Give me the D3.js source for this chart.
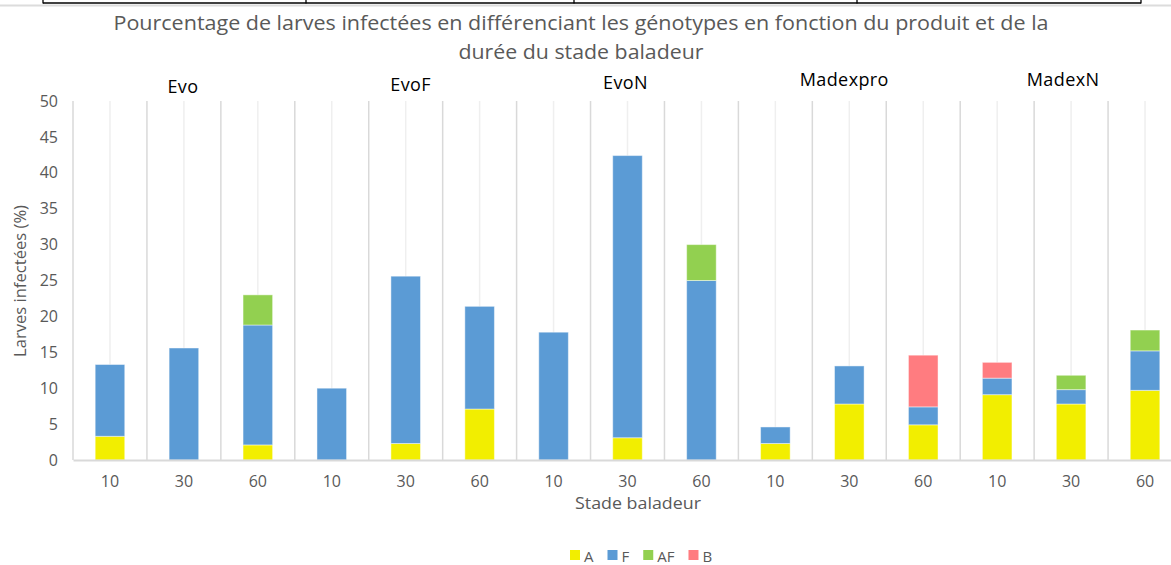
<!DOCTYPE html>
<html>
<head>
<meta charset="utf-8">
<script src="https://cdn.jsdelivr.net/npm/d3@7"></script>
<style>
  body { margin: 0; background: #fff; }
  svg { display: block; font-family: "Open Sans", sans-serif; }
</style>
</head>
<body>
<svg width="1171" height="565"></svg>
<script>
// categories : durée du stade baladeur, 3 par produit
var groups = ["Evo", "EvoF", "EvoN", "Madexpro", "MadexN"];
var durations = ["10", "30", "60"];
var yTicks = [0, 5, 10, 15, 20, 25, 30, 35, 40, 45, 50];

// % larves infectées par génotype
var serieA  = [3.3, 0, 2.1,   0, 2.3, 7.1,   0, 3.1, 0,     2.3, 7.8, 4.9,   9.1, 7.8, 9.7];
var serieF  = [10.0, 15.6, 16.7,   10.0, 23.3, 14.3,   17.8, 39.3, 25.0,   2.3, 5.3, 2.5,   2.3, 2.0, 5.5];
var serieAF = [0, 0, 4.2,   0, 0, 0,   0, 0, 5.0,   0, 0, 0,   0, 2.0, 2.9];
var serieB  = [0, 0, 0,   0, 0, 0,   0, 0, 0,   0, 0, 7.2,   2.2, 0, 0];

var seriesNames = ["A", "F", "AF", "B"];
var seriesColors = ["#F2EE00", "#5B9BD5", "#92D050", "#FF7C80"];

var svg = d3.select("svg");
var gray = "#595959";

// build rows for the stack
var data = [];
for (var i = 0; i < groups.length * durations.length; i++) {
  data.push({
    idx: i,
    label: durations[i % 3],
    A: serieA[i], F: serieF[i], AF: serieAF[i], B: serieB[i]
  });
}

var x = d3.scaleBand()
  .domain(data.map(function(d) { return d.idx; }))
  .range([73, 1182])
  .paddingInner(0.6)
  .paddingOuter(0.3);

var y = d3.scaleLinear().domain([0, 50]).range([460, 101]);

// bordure du tableau au dessus
var topLines = [43, 306, 574, 857, 1141];
svg.append("line")
  .attr("x1", 0).attr("x2", 1171).attr("y1", 5.5).attr("y2", 5.5)
  .attr("stroke", "#dcdcdc").attr("stroke-width", 2);
svg.append("line")
  .attr("x1", topLines[0]).attr("x2", topLines[topLines.length - 1])
  .attr("y1", 3).attr("y2", 3)
  .attr("stroke", "#000").attr("stroke-width", 1.3);
svg.selectAll(".tline").data(topLines).enter().append("line")
  .attr("x1", function(d) { return d; }).attr("x2", function(d) { return d; })
  .attr("y1", 0).attr("y2", 3.5)
  .attr("stroke", "#000").attr("stroke-width", 1.3);

// titre
var title = ["Pourcentage de larves infectées en différenciant les génotypes en fonction du produit et de la",
             "durée du stade baladeur"];
var titleWidth = [935, 245];
svg.selectAll(".title").data(title).enter().append("text")
  .attr("x", 581)
  .attr("y", function(d, i) { return 30 + i * 29; })
  .attr("text-anchor", "middle")
  .attr("font-size", "20px")
  .attr("fill", gray)
  .attr("textLength", function(d, i) { return titleWidth[i]; })
  .attr("lengthAdjust", "spacingAndGlyphs")
  .text(function(d) { return d; });

// gridlines
var nCat = data.length;
var majors = d3.range(nCat + 1).map(function(k) { return x.range()[0] + k * x.step(); });
svg.selectAll(".major").data(majors).enter().append("line")
  .attr("x1", function(d) { return d; }).attr("x2", function(d) { return d; })
  .attr("y1", y(50)).attr("y2", y(0))
  .attr("stroke", "#d9d9d9").attr("stroke-width", 1.5);
svg.selectAll(".minor").data(data).enter().append("line")
  .attr("x1", function(d) { return x(d.idx) + x.bandwidth() / 2; })
  .attr("x2", function(d) { return x(d.idx) + x.bandwidth() / 2; })
  .attr("y1", y(50)).attr("y2", y(0))
  .attr("stroke", "#efefef").attr("stroke-width", 1.5);

// barres empilées
var stack = d3.stack().keys(seriesNames);
var layers = stack(data);
var color = d3.scaleOrdinal().domain(seriesNames).range(seriesColors);

svg.selectAll(".layer").data(layers).enter().append("g")
  .attr("fill", function(d) { return color(d.key); })
  .selectAll("rect")
  .data(function(d) { return d.filter(function(s) { return s[1] - s[0] > 0; }); })
  .enter().append("rect")
  .attr("x", function(d) { return x(d.data.idx); })
  .attr("y", function(d) { return y(d[1]); })
  .attr("width", x.bandwidth())
  .attr("height", function(d) { return y(d[0]) - y(d[1]); })
  .attr("stroke", "rgba(255,255,255,0.45)")
  .attr("stroke-width", 1);

// axe des x
var xAxis = svg.append("g")
  .attr("transform", "translate(0," + y(0) + ")")
  .call(d3.axisBottom(x).tickSize(0).tickSizeOuter(0)
    .tickFormat(function(d) { return data[d].label; }));
xAxis.select(".domain").attr("stroke", "#d9d9d9").attr("stroke-width", 2);
xAxis.selectAll("text")
  .attr("y", 16).attr("dy", "0.71em")
  .attr("font-family", "Open Sans").attr("font-size", "16px").attr("fill", gray);

// axe des y
var yAxis = svg.append("g")
  .attr("transform", "translate(" + 73 + ",0)")
  .call(d3.axisLeft(y).tickValues(yTicks).tickSize(0).tickPadding(15));
yAxis.select(".domain").remove();
yAxis.selectAll("text")
  .attr("font-family", "Open Sans").attr("font-size", "16px").attr("fill", gray);

svg.append("text")
  .attr("transform", "translate(26,281) rotate(-90)")
  .attr("text-anchor", "middle")
  .attr("font-size", "17px")
  .attr("fill", gray)
  .attr("textLength", 152)
  .attr("lengthAdjust", "spacingAndGlyphs")
  .text("Larves infectées (%)");

svg.append("text")
  .attr("x", 638).attr("y", 509)
  .attr("text-anchor", "middle")
  .attr("font-size", "17px")
  .attr("fill", gray)
  .attr("textLength", 126)
  .attr("lengthAdjust", "spacingAndGlyphs")
  .text("Stade baladeur");

// noms des produits
var labelDx = [-1, 5, -2, -5, -8];
var labelY = [93, 91, 89, 86, 86];
svg.selectAll(".grp").data(groups).enter().append("text")
  .attr("x", function(d, i) { return x(i * 3 + 1) + x.bandwidth() / 2 + labelDx[i]; })
  .attr("y", function(d, i) { return labelY[i]; })
  .attr("text-anchor", "middle")
  .attr("font-size", "18px")
  .attr("letter-spacing", "0.4px")
  .attr("fill", "#000")
  .text(function(d) { return d; });

// légende
var legend = svg.append("g");
var lx = 570;
seriesNames.forEach(function(name, i) {
  legend.append("rect")
    .attr("x", lx).attr("y", 550)
    .attr("width", 10).attr("height", 10)
    .attr("fill", color(name));
  var t = legend.append("text")
    .attr("x", lx + 14).attr("y", 562)
    .attr("font-size", "15px")
    .attr("fill", gray)
    .text(name);
  lx += 14 + t.node().getComputedTextLength() + 14;
});
</script>
</body>
</html>
